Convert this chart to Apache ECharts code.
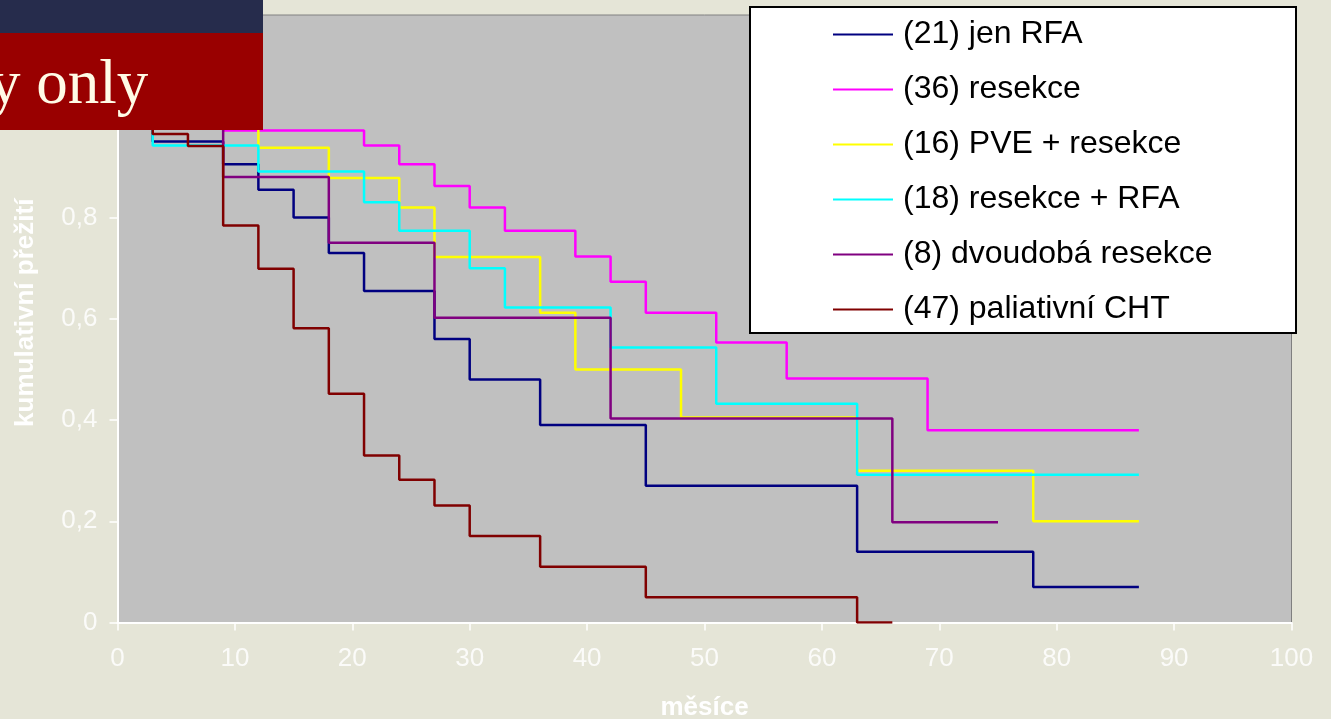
<!DOCTYPE html>
<html>
<head>
<meta charset="utf-8">
<script src="https://cdn.jsdelivr.net/npm/echarts@6/dist/echarts.min.js"></script>
<style>
  html, body { margin: 0; padding: 0; width: 1331px; height: 719px; overflow: hidden; background: #e5e5d7; }
  #chart { width: 1331px; height: 719px; }
</style>
</head>
<body>
<div id="chart"></div>
<script>
// Kaplan–Meier survival by treatment group (months, cumulative survival)
const groupNames = [
  '(21) jen RFA',
  '(36) resekce',
  '(16) PVE + resekce',
  '(18) resekce + RFA',
  '(8) dvoudobá resekce',
  '(47) paliativní CHT'
];
const groupColors = ['#000080', '#ff00ff', '#ffff00', '#00ffff', '#800080', '#800000'];

const jenRfaMonths   = [0, 3, 9, 12, 15, 18, 21, 27, 30, 36, 45, 63, 78, 87];
const jenRfaSurvival = [1, 0.95, 0.905, 0.855, 0.80, 0.73, 0.655, 0.56, 0.48, 0.39, 0.27, 0.14, 0.07, 0.07];

const resekceMonths   = [0, 9, 21, 24, 27, 30, 33, 39, 42, 45, 51, 57, 69, 87];
const resekceSurvival = [1, 0.972, 0.942, 0.905, 0.862, 0.82, 0.774, 0.723, 0.673, 0.612, 0.553, 0.482, 0.38, 0.38];

const pveMonths   = [0, 12, 18, 24, 27, 36, 39, 48, 63, 78, 87];
const pveSurvival = [1, 0.938, 0.878, 0.82, 0.722, 0.612, 0.50, 0.405, 0.30, 0.20, 0.20];

const resekceRfaMonths   = [0, 3, 12, 21, 24, 30, 33, 42, 51, 63, 87];
const resekceRfaSurvival = [1, 0.942, 0.891, 0.83, 0.774, 0.70, 0.622, 0.543, 0.432, 0.292, 0.292];

const dvoudobaMonths   = [0, 9, 18, 27, 42, 66, 75];
const dvoudobaSurvival = [1, 0.88, 0.75, 0.602, 0.403, 0.198, 0.198];

const chtMonths   = [0, 3, 6, 9, 12, 15, 18, 21, 24, 27, 30, 36, 45, 63, 66];
const chtSurvival = [1, 0.965, 0.941, 0.784, 0.699, 0.581, 0.452, 0.33, 0.282, 0.231, 0.171, 0.11, 0.05, 0, 0];

const groupMonths   = [jenRfaMonths, resekceMonths, pveMonths, resekceRfaMonths, dvoudobaMonths, chtMonths];
const groupSurvival = [jenRfaSurvival, resekceSurvival, pveSurvival, resekceRfaSurvival, dvoudobaSurvival, chtSurvival];

const xAxisTitle = 'měsíce';
const yAxisTitle = 'kumulativní přežití';
const bannerText = 'y only';

const FONT = '"Liberation Sans", Arial, Helvetica, sans-serif';
const LABEL_COLOR = 'rgba(255,255,255,0.85)';

const chart = echarts.init(document.getElementById('chart'), null, { renderer: 'canvas' });

const series = groupNames.map((name, i) => ({
  name: name,
  type: 'line',
  step: 'end',
  symbol: 'none',
  lineStyle: { width: 2.5, color: groupColors[i] },
  itemStyle: { color: groupColors[i] },
  data: groupMonths[i].map((m, k) => [m, groupSurvival[i][k]]),
  silent: true
}));

chart.setOption({
  animation: false,
  backgroundColor: 'transparent',
  grid: {
    left: 117.5, right: 39.5, top: 15, bottom: 96.5,
    outerBoundsMode: 'none', containLabel: false,
    show: true, backgroundColor: '#c0c0c0', borderColor: '#808080', borderWidth: 1
  },
  xAxis: {
    type: 'value', min: 0, max: 100, interval: 10,
    axisLine: { show: true, lineStyle: { color: '#ffffff', width: 2 } },
    axisTick: { show: true, length: 8, lineStyle: { color: '#ffffff', width: 1.5 } },
    axisLabel: { color: LABEL_COLOR, fontSize: 26, fontFamily: FONT, margin: 23 },
    splitLine: { show: false },
    name: xAxisTitle, nameLocation: 'middle', nameGap: 72,
    nameTextStyle: { color: '#ffffff', fontSize: 26, fontWeight: 'bold', fontFamily: FONT }
  },
  yAxis: {
    type: 'value', min: 0, max: 1.2, interval: 0.2,
    axisLine: { show: true, lineStyle: { color: '#ffffff', width: 2 } },
    axisTick: { show: true, length: 8, lineStyle: { color: '#ffffff', width: 1.5 } },
    axisLabel: {
      color: LABEL_COLOR, fontSize: 26, fontFamily: FONT, margin: 20,
      formatter: v => String(+v.toFixed(1)).replace('.', ',')
    },
    splitLine: { show: false },
    name: yAxisTitle, nameLocation: 'middle', nameGap: 79, nameRotate: 90,
    nameTextStyle: { color: '#ffffff', fontSize: 26, fontWeight: 'bold', fontFamily: FONT, padding: [0, 0, 0, 12] }
  },
  legend: {
    orient: 'vertical', left: 833, top: 17, padding: 0,
    icon: 'rect', itemWidth: 60, itemHeight: 2, itemGap: 20,
    selectedMode: false, z: 5,
    data: groupNames,
    textStyle: { color: '#000000', fontSize: 32, fontFamily: FONT, lineHeight: 35, padding: [0, 0, 0, 5] }
  },
  graphic: [
    {
      type: 'rect', z: 4, silent: true,
      shape: { x: 750, y: 7, width: 546, height: 326 },
      style: { fill: '#ffffff', stroke: '#000000', lineWidth: 2 }
    },
    {
      type: 'rect', z: 100, silent: true,
      shape: { x: 0, y: 0, width: 263, height: 33 },
      style: { fill: '#262c4c' }
    },
    {
      type: 'rect', z: 100, silent: true,
      shape: { x: 0, y: 33, width: 263, height: 97 },
      style: { fill: '#990000' }
    },
    {
      type: 'text', z: 101, silent: true,
      x: -11, y: 86,
      style: {
        text: bannerText, fill: '#fffbe6',
        font: '63px "Liberation Serif", "Times New Roman", serif',
        align: 'left', verticalAlign: 'middle'
      }
    }
  ],
  series: series
});
</script>
</body>
</html>
